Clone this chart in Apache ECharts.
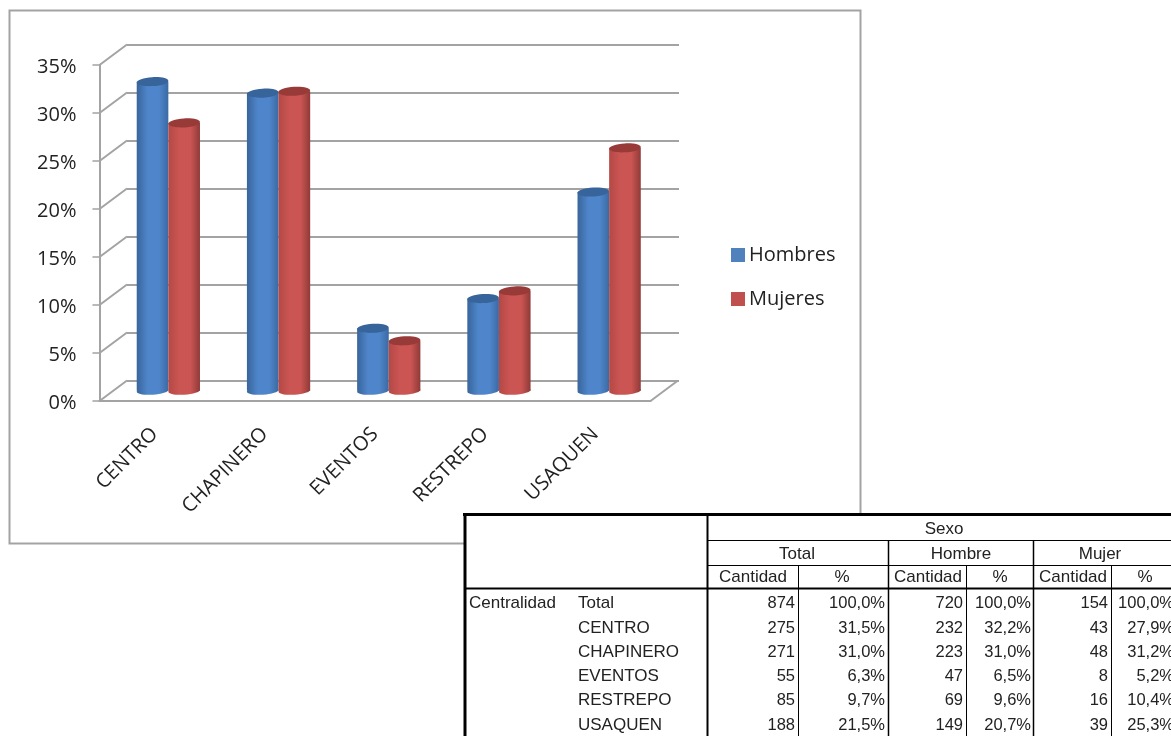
<!DOCTYPE html>
<html>
<head>
<meta charset="utf-8">
<title>Centralidad por sexo</title>
<script src="https://cdn.jsdelivr.net/npm/echarts@6/dist/echarts.min.js"></script>
<style>
  html, body { margin: 0; padding: 0; background: #fff; }
  #chart { width: 1171px; height: 736px; }
</style>
</head>
<body>
<div id="chart"></div>
<script>
// Datos del grafico
const categories = ['CENTRO', 'CHAPINERO', 'EVENTOS', 'RESTREPO', 'USAQUEN'];
const hombres = [32.2, 31.0, 6.5, 9.6, 20.7];
const mujeres = [27.9, 31.2, 5.2, 10.4, 25.3];
const yTicks = [0, 5, 10, 15, 20, 25, 30, 35];

// Datos de la tabla
const rowLabels = ['Total', 'CENTRO', 'CHAPINERO', 'EVENTOS', 'RESTREPO', 'USAQUEN'];
const totalCant = [874, 275, 271, 55, 85, 188];
const totalPct = ['100,0%', '31,5%', '31,0%', '6,3%', '9,7%', '21,5%'];
const hombreCant = [720, 232, 223, 47, 69, 149];
const hombrePct = ['100,0%', '32,2%', '31,0%', '6,5%', '9,6%', '20,7%'];
const mujerCant = [154, 43, 48, 8, 16, 39];
const mujerPct = ['100,0%', '27,9%', '31,2%', '5,2%', '10,4%', '25,3%'];

// Profundidad del efecto 3D (pared del fondo respecto al eje frontal)
const DEPTH_X = 27.5;
const DEPTH_Y = -20.5;
const GRAY = '#a3a3a3';
const LABEL_FONT = '"Open Sans", sans-serif';
const TABLE_FONT = '"Liberation Sans", Arial, sans-serif';

const chart = echarts.init(document.getElementById('chart'), null, { renderer: 'canvas' });

// Cilindro: un cuerpo con degradado y dos elipses, a media profundidad
function cylinder(side, colors) {
    const body = new echarts.graphic.LinearGradient(0, 0, 1, 0, [
        { offset: 0, color: colors[0] },
        { offset: 0.35, color: colors[1] },
        { offset: 0.7, color: colors[1] },
        { offset: 1, color: colors[2] }
    ]);
    return function (params, api) {
        const band = api.size([1, 0])[0];
        const w = band * 0.287;
        const top = api.coord([api.value(0), api.value(1)]);
        const base = api.coord([api.value(0), 0]);
        const cx = top[0] + DEPTH_X / 2 + side * w / 2;
        const dy = DEPTH_Y / 2;
        return {
            type: 'group',
            children: [
                {
                    type: 'ellipse',
                    shape: { cx: 0, cy: 0, rx: w / 2, ry: 4 },
                    x: cx, y: base[1] + dy, rotation: 0.06,
                    style: { fill: body }
                },
                {
                    type: 'rect',
                    shape: { x: cx - w / 2, y: top[1] + dy, width: w, height: base[1] - top[1] },
                    style: { fill: body }
                },
                {
                    type: 'ellipse',
                    shape: { cx: 0, cy: 0, rx: w / 2, ry: 4.5 },
                    x: cx, y: top[1] + dy, rotation: 0.06,
                    style: { fill: colors[3] }
                }
            ]
        };
    };
}

// Diagonales de la pared izquierda y del piso
function wallLine(params, api) {
    const band = api.size([1, 0])[0];
    const p = api.coord([api.value(0), api.value(1)]);
    const x = p[0] + api.value(2) * band / 2;
    return {
        type: 'line',
        shape: { x1: x, y1: p[1], x2: x + DEPTH_X, y2: p[1] + DEPTH_Y },
        style: { stroke: GRAY, lineWidth: 2 }
    };
}

// Tabla dibujada con elementos graficos de ECharts
function buildTable() {
    const els = [];
    const line = (x1, y1, x2, y2, w) => els.push({
        type: 'line',
        shape: { x1: x1, y1: y1, x2: x2, y2: y2 },
        style: { stroke: '#000', lineWidth: w }
    });
    const txt = (s, x, y, align, size) => els.push({
        type: 'text', x: x, y: y,
        style: { text: String(s), font: (size || 17) + 'px ' + TABLE_FONT, fill: '#222', align: align, verticalAlign: 'middle' }
    });
    const R = 1171, B = 736;

    els.push({ type: 'rect', shape: { x: 464, y: 513, width: 707, height: 223 }, style: { fill: '#fff' } });

    line(463, 514.5, R, 514.5, 3);
    line(465, 513, 465, B, 3);
    line(707.5, 514, 707.5, B, 2);
    line(707, 540.5, R, 540.5, 1);
    line(707, 565.5, R, 565.5, 1);
    line(465, 588.5, R, 588.5, 2);
    line(888.5, 540, 888.5, B, 1.5);
    line(1033.5, 540, 1033.5, B, 1.5);
    line(798.5, 565, 798.5, B, 1);
    line(966.5, 565, 966.5, B, 1);
    line(1111.5, 565, 1111.5, B, 1);

    txt('Sexo', 944, 529, 'center');
    txt('Total', 797, 554, 'center');
    txt('Hombre', 961, 554, 'center');
    txt('Mujer', 1100, 554, 'center');
    [753, 928, 1073].forEach(x => txt('Cantidad', x, 577, 'center'));
    [842, 1000, 1145].forEach(x => txt('%', x, 577, 'center'));
    txt('Centralidad', 469, 603, 'left');

    const rowY = [603, 628, 652, 676, 700, 725];
    rowLabels.forEach((label, i) => {
        const y = rowY[i];
        txt(label, 578, y, 'left');
        txt(totalCant[i], 795, y, 'right', 16.5);
        txt(totalPct[i], 885, y, 'right', 16.5);
        txt(hombreCant[i], 963, y, 'right', 16.5);
        txt(hombrePct[i], 1031, y, 'right', 16.5);
        txt(mujerCant[i], 1108, y, 'right', 16.5);
        txt(mujerPct[i], 1174, y, 'right', 16.5);
    });
    return els;
}

const option = {
    animation: false,
    backgroundColor: '#fff',
    grid: [
        { left: 99.5, top: 65, width: 551, height: 336 },
        { left: 127, top: 44.5, width: 552, height: 336 }
    ],
    xAxis: [
        {
            type: 'category', gridIndex: 0, data: categories,
            axisLine: { lineStyle: { color: GRAY, width: 2 } },
            axisTick: { length: 9, lineStyle: { color: GRAY, width: 1.5 } },
            axisLabel: { rotate: 45, interval: 0, margin: 30, color: '#222', fontFamily: LABEL_FONT, fontSize: 20 }
        },
        {
            type: 'category', gridIndex: 1, data: categories,
            axisLine: { show: false }, axisTick: { show: false }, axisLabel: { show: false }
        }
    ],
    yAxis: [
        {
            type: 'value', gridIndex: 0, min: 0, max: 35, interval: 5,
            axisLine: { show: true, lineStyle: { color: GRAY, width: 2 } },
            axisTick: { show: true, length: 7, lineStyle: { color: GRAY, width: 1.5 } },
            splitLine: { show: false },
            axisLabel: {
                margin: 23, formatter: '{a|{value}%}',
                rich: { a: { color: '#222', fontFamily: LABEL_FONT, fontSize: 20, padding: [4, 0, 0, 0] } }
            }
        },
        {
            type: 'value', gridIndex: 1, min: 0, max: 35, interval: 5,
            axisLine: { show: false }, axisTick: { show: false }, axisLabel: { show: false },
            splitLine: { show: true, lineStyle: { color: GRAY, width: 2 } }
        }
    ],
    legend: {
        left: 726, top: 240, orient: 'vertical', itemWidth: 14, itemHeight: 14, itemGap: 24,
        data: [
            { name: 'Hombres', icon: 'rect', itemStyle: { color: '#4f81bd' } },
            { name: 'Mujeres', icon: 'rect', itemStyle: { color: '#c0504d' } }
        ],
        textStyle: { color: '#222', fontFamily: LABEL_FONT, fontSize: 20, padding: [0, 0, 0, -1] }
    },
    graphic: { elements: [
        { type: 'rect', shape: { x: 9.5, y: 10.5, width: 851, height: 533 }, style: { fill: 'none', stroke: GRAY, lineWidth: 2 }, z: 0 },
        { type: 'group', z: 100, children: buildTable() }
    ] },
    series: [
        {
            name: 'pared', type: 'custom', xAxisIndex: 0, yAxisIndex: 0, z: 1, silent: true,
            renderItem: wallLine,
            // la ultima columna indica el extremo del eje: -1 izquierda, 1 derecha
            data: yTicks.map(v => [0, v, -1]).concat([[categories.length - 1, 0, 1]])
        },
        {
            name: 'Hombres', type: 'custom', xAxisIndex: 0, yAxisIndex: 0, z: 3,
            renderItem: cylinder(-1, ['#38659b', '#4f86cb', '#3b6aa3', '#37649a']),
            itemStyle: { color: '#4f81bd' },
            encode: { x: 0, y: 1 },
            data: hombres.map((v, i) => [i, v])
        },
        {
            name: 'Mujeres', type: 'custom', xAxisIndex: 0, yAxisIndex: 0, z: 3,
            renderItem: cylinder(1, ['#b44845', '#cb5553', '#8f3a38', '#983a38']),
            itemStyle: { color: '#c0504d' },
            encode: { x: 0, y: 1 },
            data: mujeres.map((v, i) => [i, v])
        }
    ]
};

chart.setOption(option);
window.addEventListener('resize', () => chart.resize());
</script>
</body>
</html>
